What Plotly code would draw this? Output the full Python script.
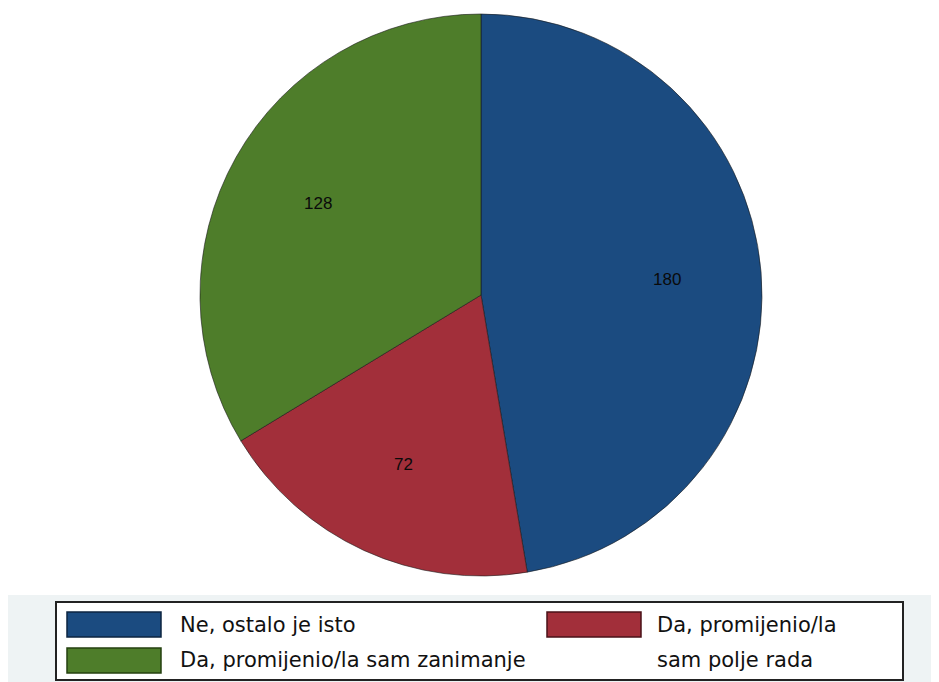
import math
import plotly.graph_objects as go

# ---- data ----
labels = ["Ne, ostalo je isto", "Da, promijenio/la sam polje rada", "Da, promijenio/la sam zanimanje"]
values = [180, 72, 128]
legend_lines = [["Ne, ostalo je isto"], ["Da, promijenio/la", "sam polje rada"], ["Da, promijenio/la sam zanimanje"]]
colors = ["#1b4b80", "#a22f3a", "#4e7d2a"]
edge_colors = ["#0c2540", "#4a1218", "#24400f"]

# page body has an 8px margin: build the figure in screen coords minus 8
OFF = 8
W, H = 939 - OFF, 682 - OFF
cx, cy, r = 481, 295, 281

def px(x):
    return (x - OFF) / W

def py(y):
    return 1 - (y - OFF) / H

fig = go.Figure()
fig.add_trace(go.Pie(
    labels=labels, values=values, sort=False, direction="clockwise", rotation=0,
    marker=dict(colors=colors, line=dict(color="#1a1a1a", width=0.6)),
    textinfo="none", hoverinfo="label+value", showlegend=False,
    domain=dict(x=[px(cx - r), px(cx + r)], y=[py(cy + r), py(cy - r)]),
))

annotations = []
total = sum(values)
cum = 0
for v in values:
    mid = (cum + v / 2) / total * 2 * math.pi
    cum += v
    lx = cx + 0.665 * r * math.sin(mid)
    ly = cy - 0.665 * r * math.cos(mid)
    annotations.append(dict(x=px(lx), y=py(ly), xref="paper", yref="paper", text=str(v),
                            xanchor="center", yanchor="middle", showarrow=False,
                            font=dict(family="Liberation Sans", size=17, color="#0a0a0a")))

shapes = [
    dict(type="rect", xref="paper", yref="paper", x0=px(7), x1=1.0, y0=0, y1=py(595),
         fillcolor="#eef3f4", line=dict(width=0), layer="below"),
    dict(type="rect", xref="paper", yref="paper", x0=px(56), x1=px(903), y0=py(680), y1=py(602),
         fillcolor="white", line=dict(color="#222", width=2), layer="below"),
]

# legend layout: (swatch x0, swatch y0, text x, first line y)
legend_pos = [(67, 612, 178, 625), (547, 612, 655, 625), (67, 648, 178, 660)]
for i, (sx, sy, tx, ty) in enumerate(legend_pos):
    shapes.append(dict(type="rect", xref="paper", yref="paper", x0=px(sx), x1=px(sx + 94),
                       y0=py(sy + 25), y1=py(sy), fillcolor=colors[i],
                       line=dict(color=edge_colors[i], width=1.5)))
    for j, line in enumerate(legend_lines[i]):
        annotations.append(dict(x=px(tx), y=py(ty + 35 * j), xref="paper", yref="paper",
                                xanchor="left", yanchor="middle", text=line, showarrow=False,
                                font=dict(family="DejaVu Sans", size=21, color="#111")))

fig.update_layout(
    width=W, height=H, margin=dict(l=0, r=0, t=0, b=0),
    paper_bgcolor="white", plot_bgcolor="white",
    shapes=shapes, annotations=annotations,
)
fig.write_html("out.html")
